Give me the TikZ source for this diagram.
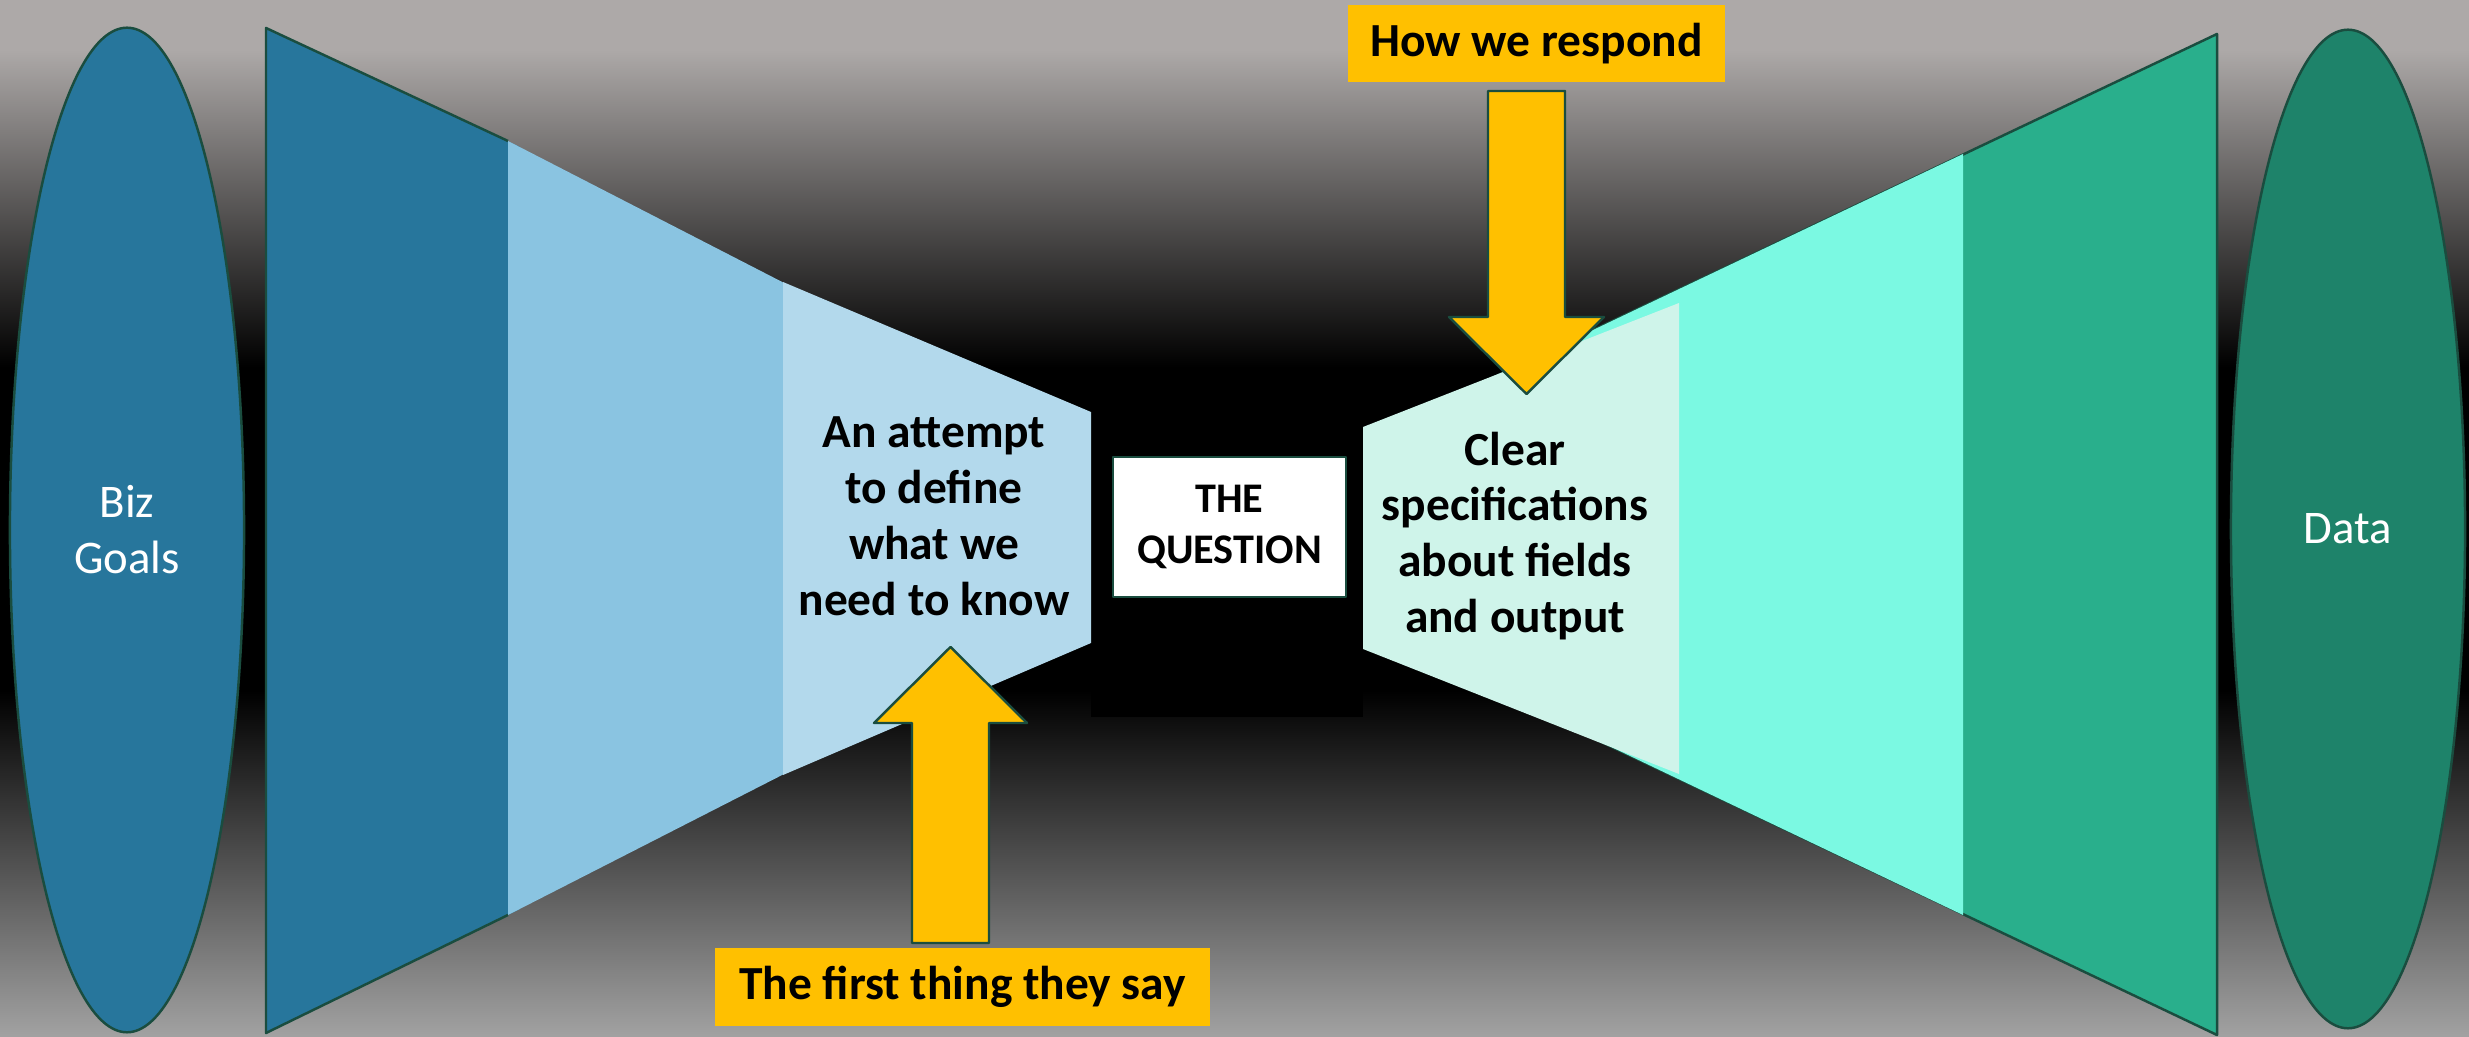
\documentclass[tikz,border=0pt]{standalone}
\usepackage{fontspec}
\setmainfont{Carlito}
\usetikzlibrary{shapes.geometric}

\definecolor{bgtop}{HTML}{ADA9A8}
\definecolor{bgbottom}{HTML}{A2A2A2}
\definecolor{bizblue}{HTML}{27769C}
\definecolor{midblue}{HTML}{8AC4E1}
\definecolor{paleblue}{HTML}{B3D9EC}
\definecolor{mint}{HTML}{CFF4EA}
\definecolor{aqua}{HTML}{7BF9E2}
\definecolor{sea}{HTML}{29AF8C}
\definecolor{datagreen}{HTML}{1E836A}
\definecolor{edge}{HTML}{1A4D3F}
\definecolor{gold}{HTML}{FFC000}

\pgfdeclareverticalshading{stage}{100bp}{color(0bp)=(bgbottom); color(25bp)=(bgbottom); color(41.7bp)=(black); color(57.3bp)=(black); color(72.6bp)=(bgtop); color(100bp)=(bgtop)}

\tikzset{
  blob/.style={ellipse,draw=edge,line width=.7pt,text=white,align=center,
    inner sep=0pt,minimum width=2.34cm,minimum height=10.04cm,
    font=\fontsize{13.3}{15.9}\selectfont},
  blurb/.style={align=center,inner sep=0pt,
    font=\fontsize{13.5}{15.9}\selectfont\bfseries},
  tag/.style={fill=gold,inner sep=0pt,
    font=\fontsize{13.5}{16.4}\selectfont\bfseries},
  blockarrow/.style={fill=gold,draw=edge,line width=.7pt}
}

\begin{document}
\begin{tikzpicture}[x=0.01cm,y=-0.01cm,line join=round]
\useasboundingbox (0,0) rectangle (2469,1037);
\shade[shading=stage] (0,0) rectangle (2469,1037);
\fill[black] (1091,370) rectangle (1363,717);

\node[blob,fill=bizblue] (goals) at (127,530) {Biz\\Goals};
\node[blob,fill=datagreen,minimum height=9.98cm] (data) at (2348,529) {\raisebox{-3pt}{Data}};

\fill[bizblue] (266,28) -- (520,147) -- (520,909) -- (266,1033) -- cycle;
\draw[edge,line width=.7pt] (508,141) -- (266,28) -- (266,1033) -- (508,915);
\fill[midblue] (508,141) -- (790,286) -- (790,771) -- (508,915) -- cycle;
\fill[paleblue] (783,282) -- (1091,412) -- (1091,643) -- (783,775) -- cycle;

\fill[sea] (1450,398) -- (2217,34) -- (2217,1035) -- (1450,670) -- cycle;
\draw[edge,line width=.7pt] (1450,398) -- (2217,34) -- (2217,1035) -- (1450,670);
\fill[aqua] (1450,398) -- (1963,154) -- (1963,915) -- (1450,670) -- cycle;
\fill[mint] (1363,427) -- (1679,303) -- (1679,774) -- (1363,649) -- cycle;

\node[blurb] (ask) at (934,516) {An attempt\\to define\\what we\\need to know};
\node[blurb] (spec) at (1515,536) {Clear\\specifications\\about fields\\and output};
\node[draw=edge,line width=.8pt,fill=white,align=center,inner sep=0pt,
  minimum width=2.33cm,minimum height=1.40cm,
  font=\fontsize{12}{14.5}\selectfont\bfseries] (question) at (1229.5,527) {\raisebox{-2pt}{THE}\\\raisebox{-2pt}{QUESTION}};

\filldraw[blockarrow] (912,943) -- (912,723) -- (874,723) -- (950.5,647) -- (1027,723) -- (989,723) -- (989,943) -- cycle;
\filldraw[blockarrow] (1488,91) -- (1565,91) -- (1565,317) -- (1604,317) -- (1526.5,394) -- (1449,317) -- (1488,317) -- cycle;

\node[tag,minimum width=3.77cm,minimum height=.77cm] (respond) at (1536.5,43.5) {How we respond};
\node[tag,minimum width=4.95cm,minimum height=.78cm] (first) at (962.5,987) {The first thing they say};
\end{tikzpicture}
\end{document}
